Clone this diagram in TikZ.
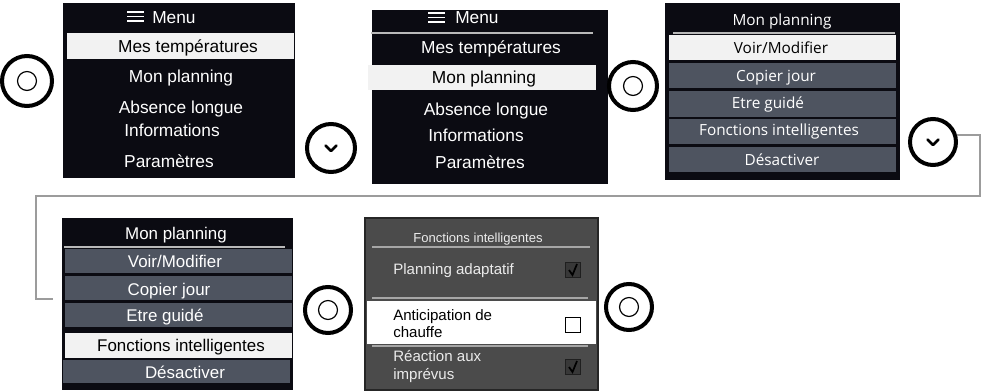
\documentclass[tikz,border=0pt]{standalone}
\usepackage{fontspec}
\setmainfont{Liberation Sans}
\newfontfamily\uifont{Open Sans}
\usetikzlibrary{positioning, calc}
\definecolor{panelbg}{HTML}{0B0B12}
\definecolor{rowgray}{HTML}{4E5460}
\definecolor{boxgray}{HTML}{4B4B4B}
\definecolor{hilite}{HTML}{F2F2F2}
\definecolor{linkgray}{HTML}{9C9C9C}
\tikzset{
    screen/.style={fill=panelbg},
    bar/.style={fill=rowgray},
    hbar/.style={fill=hilite},
    rule/.style={draw=gray!55, line width=1.1pt},
    item/.style={inner sep=0pt, text=white, font=\fontsize{13}{15}\selectfont, text height=9.3pt, text depth=0pt},
    selitem/.style={item, text=black},
    uiitem/.style={inner sep=0pt, text=white, font=\uifont\fontsize{11.5}{13}\selectfont, text height=8.3pt, text depth=0pt},
    smallitem/.style={inner sep=0pt, text=white, font=\fontsize{12.7}{15}\selectfont, text height=9.1pt, text depth=0pt},
    tinyitem/.style={inner sep=0pt, text=white!92!black, font=\fontsize{9.8}{12}\selectfont, text height=7pt, text depth=0pt},
    optitem/.style={inner sep=0pt, anchor=west, text=white!92!black, font=\fontsize{11.3}{13}\selectfont, text height=8.1pt, text depth=0pt},
    knob/.style={circle, draw=black, line width=3pt, minimum size=37.5pt, inner sep=0pt},
    okring/.style={circle, draw=black, line width=0.9pt, minimum size=14.2pt, inner sep=0pt},
    chev/.style={line width=1.9pt, line cap=round, line join=round},
    tick/.style={draw=black!88, fill=black!78, line width=1pt, minimum size=11.5pt, inner sep=0pt},
    notick/.style={draw=black, fill=white, line width=1pt, minimum size=11pt, inner sep=0pt},
    link/.style={draw=linkgray, line width=1.4pt}
}

\begin{document}
\begin{tikzpicture}[x=0.75pt, y=-0.75pt]
    \useasboundingbox (0,0) rectangle (982,391);
    % main menu, first entry
    \fill[screen] (63,3) rectangle (295,178);
    \fill[hbar] (67,33) rectangle (294,59);
    \draw[white, line width=1.1pt] (127,12) -- (144,12) (127,16.5) -- (144,16.5) (127,21) -- (144,21);
    \node[item, anchor=west] (menuA) at (152,17) {Menu};
    \node[selitem] (tempA) at (188,46) {Mes températures};
    \node[item] (planA) at (181,76) {Mon planning};
    \node[item] (absA) at (181,107) {Absence longue};
    \node[item] (infoA) at (172,130) {Informations};
    \node[item] (paramA) at (169,161) {Paramètres};

    % main menu, second entry
    \fill[screen] (372,10) rectangle (608,184);
    \draw[rule] (371,33) -- (593,33);
    \fill[hbar] (368,65) rectangle (596,90);
    \draw[white, line width=1.1pt] (428,13) -- (445,13) (428,17.5) -- (445,17.5) (428,22) -- (445,22);
    \node[item, anchor=west] (menuB) at (455,17) {Menu};
    \node[item] (tempB) at (491,47) {Mes températures};
    \node[selitem] (planB) at (484,77) {Mon planning};
    \node[item] (absB) at (486,109) {Absence longue};
    \node[item] (infoB) at (476,135) {Informations};
    \node[item] (paramB) at (480,162) {Paramètres};

    % planning menu
    \fill[screen] (665,3) rectangle (900,180);
    \draw[rule] (673,33) -- (895,33);
    \fill[hbar] (669,35) rectangle (896,60);
    \fill[bar] (669,63) rectangle (896,88);
    \fill[bar] (669,91) rectangle (896,117);
    \fill[bar] (669,119) rectangle (896,144);
    \fill[bar] (669,147) rectangle (896,172);
    \node[uiitem] (titleC) at (782,20) {Mon planning};
    \node[uiitem, text=black] (viewC) at (781,48) {Voir/Modifier};
    \node[uiitem] (copyC) at (776,76) {Copier jour};
    \node[uiitem] (guideC) at (768,103) {Etre guidé};
    \node[uiitem] (smartC) at (779,130) {Fonctions intelligentes};
    \node[uiitem] (offC) at (782,160) {Désactiver};

    % planning menu, smart functions selected
    \fill[screen] (62,218) rectangle (293,390);
    \draw[rule] (64,247) -- (285,247);
    \fill[bar] (65,249) rectangle (292,273);
    \fill[bar] (65,276) rectangle (292,300);
    \fill[bar] (65,303) rectangle (292,327);
    \fill[hbar] (65,333) rectangle (292,358);
    \fill[bar] (63,360) rectangle (290,383);
    \node[smallitem] (titleD) at (176,233) {Mon planning};
    \node[smallitem] (viewD) at (175,261) {Voir/Modifier};
    \node[smallitem] (copyD) at (169,289) {Copier jour};
    \node[smallitem] (guideD) at (165,315) {Etre guidé};
    \node[smallitem, text=black] (smartD) at (181,345) {Fonctions intelligentes};
    \node[smallitem] (offD) at (185,372) {Désactiver};

    % smart functions
    \filldraw[fill=boxgray, draw=black!85, line width=1.1pt] (365,218) rectangle (598,390);
    \draw[rule, draw=gray!70] (372,247) -- (590,247);
    \draw[rule, draw=gray!70] (372,298) -- (588,298);
    \fill[white] (367,301) rectangle (596,344);
    \draw[rule, draw=gray!70] (372,346) -- (588,346);
    \node[tinyitem] (titleE) at (478,238) {Fonctions intelligentes};
    \node[optitem] (adaptE) at (393,269) {Planning adaptatif};
    \node[optitem, text=black] (antiE) at (393,315) {Anticipation de};
    \node[optitem, text=black] (heatE) at (393,332) {chauffe};
    \node[optitem] (reactE) at (393,356) {Réaction aux};
    \node[optitem] (unexpE) at (393,374) {imprévus};
    \node[tick] (boxA) at (573,270) {};
    \node[notick] (boxB) at (573,325) {};
    \node[tick] (boxC) at (573,367) {};
    \draw[black, line width=1.3pt] ($(boxA)+(-4,0)$) -- ($(boxA)+(-0.5,5)$) -- ($(boxA)+(4,-6)$);
    \draw[black, line width=1.3pt] ($(boxC)+(-4,0)$) -- ($(boxC)+(-0.5,5)$) -- ($(boxC)+(4,-6)$);

    % buttons
    \node[knob] (btnA) at (27,81) {};
    \node[okring] at (btnA) {};
    \node[knob, minimum size=36pt] (btnB) at (331,148) {};
    \draw[chev] ($(btnB)+(-5.5,-2.5)$) -- ($(btnB)+(0,3)$) -- ($(btnB)+(5.5,-2.5)$);
    \node[knob, minimum size=36pt] (btnC) at (633,86) {};
    \node[okring] at (btnC) {};
    \node[knob, minimum size=34.5pt] (btnD) at (933,142) {};
    \draw[chev] ($(btnD)+(-5.5,-2.5)$) -- ($(btnD)+(0,3)$) -- ($(btnD)+(5.5,-2.5)$);
    \node[knob, minimum size=34.5pt] (btnE) at (328,310) {};
    \node[okring] at (btnE) {};
    \node[knob, minimum size=34.5pt] (btnF) at (629,307) {};
    \node[okring] at (btnF) {};

    % link to second row
    \coordinate (bendA) at (980,196);
    \coordinate (bendB) at (36,299);
    \coordinate (lineEnd) at (53,299);
    \draw[link] (btnD.16) -| (bendA) -| (bendB) -- (lineEnd);
\end{tikzpicture}
\end{document}
